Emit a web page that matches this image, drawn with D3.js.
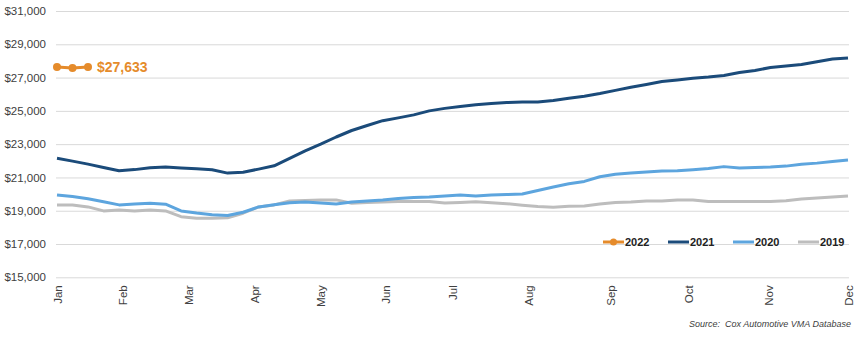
<!DOCTYPE html>
<html>
<head>
<meta charset="utf-8">
<script src="https://cdn.jsdelivr.net/npm/d3@7"></script>
<style>
  html, body { margin: 0; padding: 0; background: #fff; }
  svg { display: block; font-family: "Liberation Sans", Arial, sans-serif; }
</style>
</head>
<body>
<svg id="chart" width="862" height="347"></svg>
<script>
// Weekly average listing price by year (week 0 = first week of January)
const years = ["2022", "2021", "2020", "2019"];

const price2022 = [27640, 27580, 27633];

const price2021 = [
  22150, 21980, 21800, 21600, 21400, 21470, 21580, 21620, 21560, 21520,
  21460, 21260, 21310, 21500, 21700, 22150, 22600, 23000, 23430, 23820,
  24120, 24410, 24580, 24760, 25000, 25150, 25260, 25370, 25440, 25500,
  25530, 25530, 25620, 25760, 25880, 26040, 26230, 26420, 26580, 26760,
  26850, 26960, 27030, 27130, 27300, 27430, 27600, 27700, 27780, 27950,
  28110, 28180
];

const price2020 = [
  19950, 19850, 19720, 19540, 19350, 19400, 19450, 19390, 18990, 18860,
  18760, 18710, 18910, 19230, 19360, 19480, 19520, 19470, 19410, 19520,
  19590, 19650, 19740, 19800, 19820, 19880, 19950, 19890, 19950, 19970,
  20010, 20220, 20430, 20620, 20760, 21040, 21190, 21260, 21330, 21380,
  21400, 21460, 21540, 21650, 21560, 21600, 21620, 21680, 21790, 21860,
  21960, 22050
];

const price2019 = [
  19350, 19350, 19230, 18990, 19050, 18990, 19040, 18990, 18640, 18550,
  18550, 18580, 18850, 19230, 19350, 19590, 19610, 19640, 19650, 19450,
  19490, 19520, 19550, 19550, 19550, 19460, 19500, 19540, 19480, 19420,
  19330, 19250, 19210, 19270, 19290, 19400, 19500, 19530, 19590, 19580,
  19640, 19650, 19560, 19560, 19560, 19560, 19560, 19600, 19700, 19760,
  19830, 19890
];

// Month labels and the week at which each one sits
const monthLabels = ["Jan", "Feb", "Mar", "Apr", "May", "Jun", "Jul", "Aug", "Sep", "Oct", "Nov", "Dec"];
const monthWeeks = [0, 4.2, 8.5, 12.7, 17, 21.2, 25.5, 30.4, 35.7, 40.7, 45.9, 51];

const yTicks = [15000, 17000, 19000, 21000, 23000, 25000, 27000, 29000, 31000];

const sourceNote = "Source:  Cox Automotive VMA Database";

// ---- drawing ----
const colors = { "2022": "#E58B2B", "2021": "#1B4B7A", "2020": "#5DA5DE", "2019": "#BDBDBD" };
const seriesData = { "2022": price2022, "2021": price2021, "2020": price2020, "2019": price2019 };

const svg = d3.select("#chart");
const plotLeft = 57, plotRight = 848, plotTop = 11, plotBottom = 277.3;

const x = d3.scaleLinear().domain([0, 51]).range([plotLeft, plotRight]);
const y = d3.scaleLinear().domain([15000, 31000]).range([plotBottom, plotTop]);

// y axis with full-width gridlines
const yAxis = svg.append("g")
  .attr("transform", `translate(${plotLeft - 1},0)`)
  .call(d3.axisLeft(y)
    .tickValues(yTicks)
    .tickSize(-(plotRight - plotLeft + 2))
    .tickPadding(10)
    .tickFormat(d => "$" + d3.format(",")(d)));
yAxis.select(".domain").remove();
yAxis.selectAll(".tick line").attr("stroke", "#d9d9d9").attr("stroke-width", 1);
yAxis.selectAll(".tick text")
  .attr("fill", "#404040")
  .style("font-size", "11.5px");

// month axis, labels rotated
const xAxis = svg.append("g")
  .attr("transform", `translate(0,${plotBottom})`)
  .call(d3.axisBottom(x)
    .tickValues(monthWeeks)
    .tickSize(0)
    .tickFormat((d, i) => monthLabels[i]));
xAxis.select(".domain").remove();
xAxis.selectAll(".tick text")
  .attr("fill", "#404040")
  .style("font-size", "11.5px")
  .attr("text-anchor", "end")
  .attr("transform", "rotate(-90)")
  .attr("x", -8)
  .attr("y", 0)
  .attr("dy", "0.35em");

// series lines (2019 at the back)
const line = d3.line()
  .x((d, i) => x(i))
  .y(d => y(d));

["2019", "2020", "2021", "2022"].forEach(yr => {
  svg.append("path")
    .datum(seriesData[yr])
    .attr("fill", "none")
    .attr("stroke", colors[yr])
    .attr("stroke-width", 3)
    .attr("stroke-linejoin", "round")
    .attr("d", line);
});

// 2022 markers and end value label
svg.append("g").selectAll("circle")
  .data(price2022)
  .join("circle")
  .attr("cx", (d, i) => x(i))
  .attr("cy", d => y(d))
  .attr("r", 4)
  .attr("fill", colors["2022"]);

const last2022 = price2022[price2022.length - 1];
svg.append("text")
  .attr("x", x(price2022.length - 1) + 9)
  .attr("y", y(last2022))
  .attr("dy", "0.36em")
  .attr("fill", colors["2022"])
  .style("font-size", "14px")
  .style("font-weight", "bold")
  .text("$" + d3.format(",")(last2022));

// legend
const legend = svg.append("g").attr("transform", "translate(603,242)");
years.forEach((yr, i) => {
  const g = legend.append("g").attr("transform", `translate(${i * 65},0)`);
  g.append("line")
    .attr("x1", 0).attr("x2", 21)
    .attr("y1", 0).attr("y2", 0)
    .attr("stroke", colors[yr])
    .attr("stroke-width", 3);
  if (yr === "2022") {
    g.append("circle").attr("cx", 10.5).attr("cy", 0).attr("r", 3.5).attr("fill", colors[yr]);
  }
  g.append("text")
    .attr("x", 22)
    .attr("y", 0)
    .attr("dy", "0.36em")
    .attr("fill", "#222")
    .style("font-size", "11px")
    .style("font-weight", "bold")
    .text(yr);
});

// source note
svg.append("text")
  .attr("x", 851)
  .attr("y", 327)
  .attr("text-anchor", "end")
  .attr("fill", "#404040")
  .style("font-size", "9px")
  .style("font-style", "italic")
  .attr("xml:space", "preserve")
  .text(sourceNote);
</script>
</body>
</html>
